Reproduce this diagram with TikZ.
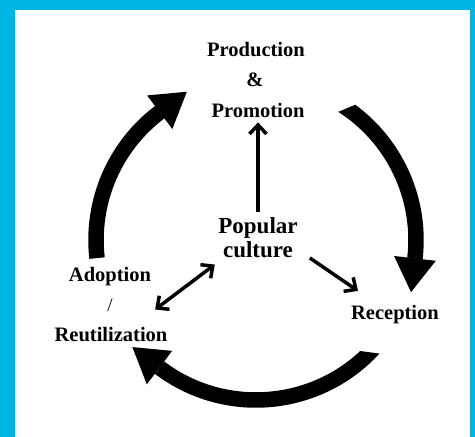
\documentclass[tikz,border=0pt]{standalone}
\usepackage{fontspec}
\setmainfont{Liberation Serif}
\usetikzlibrary{arrows.meta,calc}
\definecolor{framecyan}{RGB}{0,180,228}
\begin{document}
\begin{tikzpicture}[x=1pt,y=1pt,
  label/.style={font=\fontsize{20.5}{24}\selectfont\bfseries, inner sep=0pt, anchor=base},
  cyclearrow/.style={line width=15.5pt, -{Triangle[length=34pt,width=42pt,line width=0pt]}},
  barb/.tip={Straight Barb[length=9pt,width=17pt]},
  link/.style={line width=3.5pt},
]
% frame
\fill[framecyan] (0,0) rectangle (475,437);
\fill[white] (15,0) rectangle (470,427);
\useasboundingbox (0,0) rectangle (475,437);

\coordinate (hub) at (256,197);

% labels
\node[label] (prod) at (256,380) {Production};
\node[label] (amp) at (255,350) {\&};
\node[label] (promo) at (258,319) {Promotion};
\node[font=\fontsize{23}{23.5}\selectfont\bfseries, inner sep=0pt, align=center, anchor=north] (pop) at (258,219.2) {Popular\\culture};
\node[label] (rec) at (395,117) {Reception};
\node[label] (adop) at (110,155) {Adoption};
\node[label, font=\fontsize{19}{22}\selectfont] (slash) at (110,125) {/};
\node[label] (reut) at (111,95.3) {Reutilization};

% cycle: adoption -> production
\draw[cyclearrow] ($(hub)+(186.5:160pt)$) arc[start angle=186.5, end angle=127, radius=160pt] -- ++(37:34pt);

% cycle: production -> reception (slanted start cut)
\begin{scope}
  \coordinate (rs) at (347.5,329);
  \clip ($(rs)+(22.8:150pt)$) -- ($(rs)+(202.8:150pt)$) -- ($(rs)+(202.8:150pt)+(-67.2:320pt)$) -- ($(rs)+(22.8:150pt)+(-67.2:320pt)$) -- cycle;
  \draw[cyclearrow] ($(hub)+(63:160pt)$) arc[start angle=63, end angle=-6.6, radius=160pt] -- ++(-96.6:34pt);
\end{scope}

% cycle: reception -> adoption (slanted start cut)
\begin{scope}
  \coordinate (bs) at (367.5,85);
  \clip ($(bs)+(-7.6:150pt)$) -- ($(bs)+(172.4:320pt)$) -- ($(bs)+(172.4:320pt)+(-97.6:300pt)$) -- ($(bs)+(-7.6:150pt)+(-97.6:300pt)$) -- cycle;
  \draw[cyclearrow] ($(hub)+(-38:160pt)$) arc[start angle=-38, end angle=-127.1, radius=160pt] -- ++(142.9:34pt);
\end{scope}

% links from the centre
\draw[link, -barb, shorten <=5.8pt, shorten >=4pt] (pop.north) -- (promo.south);
\draw[link, -barb] ([xshift=12pt]pop.south east) -- ([xshift=7pt,yshift=14.7pt]rec.north west);
\draw[link, barb-barb] ([xshift=-3.4pt,yshift=-6.6pt]pop.south west) -- ([xshift=-12.4pt,yshift=17.8pt]reut.north east);
\end{tikzpicture}
\end{document}
